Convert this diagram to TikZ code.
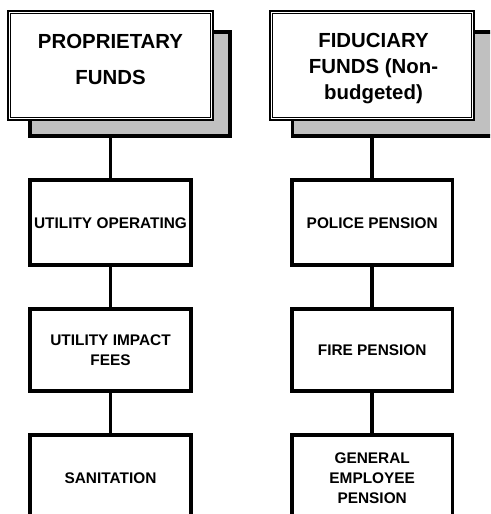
\documentclass[tikz,border=0pt]{standalone}
\usepackage{fontspec}
\setmainfont{Liberation Sans}
\definecolor{shadowgray}{RGB}{192,192,192}
\begin{document}
\begin{tikzpicture}[x=1pt,y=-1pt,
  shadowbox/.style={draw=black, fill=shadowgray, line width=3.8pt, minimum width=200pt, minimum height=104pt, inner sep=0pt},
  frontbox/.style={draw=black, fill=white, line width=2pt, minimum height=109pt, inner sep=0pt},
  innerframe/.style={draw=black, line width=1pt},
  headtext/.style={align=center, inner sep=0pt, font=\bfseries\fontsize{20.4}{35.3}\selectfont},
  fundbox/.style={draw=black, fill=white, line width=3.8pt, minimum width=160.4pt, inner sep=0pt, align=center, font=\bfseries\fontsize{15.4}{20}\selectfont},
  link/.style={draw=black, line width=3.8pt}
]
\useasboundingbox (0,0) rectangle (490,514);
\clip (0,0) rectangle (490,514);

% header cards with their raised shadows
\node[shadowbox] (ls) at (130,84) {};
\node[frontbox, minimum width=205pt] (lf) at (110.5,65.5) {};
\draw[innerframe] ([xshift=3.5pt,yshift=-3.5pt]lf.north west) rectangle ([xshift=-3.5pt,yshift=3.5pt]lf.south east);
\node[headtext] (lt) at (110.5,59.5) {PROPRIETARY\\FUNDS};

\node[shadowbox] (rs) at (392.5,84) {};
\node[frontbox, minimum width=203.7pt] (rf) at (372.2,65.5) {};
\draw[innerframe] ([xshift=3.5pt,yshift=-3.5pt]rf.north west) rectangle ([xshift=-3.5pt,yshift=3.5pt]rf.south east);
\node[headtext, font=\bfseries\fontsize{20.4}{26.3}\selectfont] (rt) at (373.5,68.4) {FIDUCIARY\\FUNDS (Non-\\budgeted)};

% proprietary funds
\node[fundbox, minimum height=85pt] (l1) at (110.5,222.8) {UTILITY OPERATING};
\node[fundbox, minimum height=82.6pt] (l2) at (110.5,350) {UTILITY IMPACT\\FEES};
\node[fundbox, minimum height=85pt] (l3) at (110.5,477.7) {SANITATION};

% fiduciary funds
\node[fundbox, minimum height=85pt] (r1) at (372.2,222.8) {POLICE PENSION};
\node[fundbox, minimum height=82.6pt] (r2) at (372.2,350) {FIRE PENSION};
\node[fundbox, minimum height=85pt] (r3) at (372.2,477.7) {GENERAL\\EMPLOYEE\\PENSION};

% connectors
\draw[link] (l1.north |- ls.south) -- (l1.north);
\draw[link] (l1.south) -- (l2.north);
\draw[link] (l2.south) -- (l3.north);
\draw[link] (r1.north |- rs.south) -- (r1.north);
\draw[link] (r1.south) -- (r2.north);
\draw[link] (r2.south) -- (r3.north);
\end{tikzpicture}
\end{document}
